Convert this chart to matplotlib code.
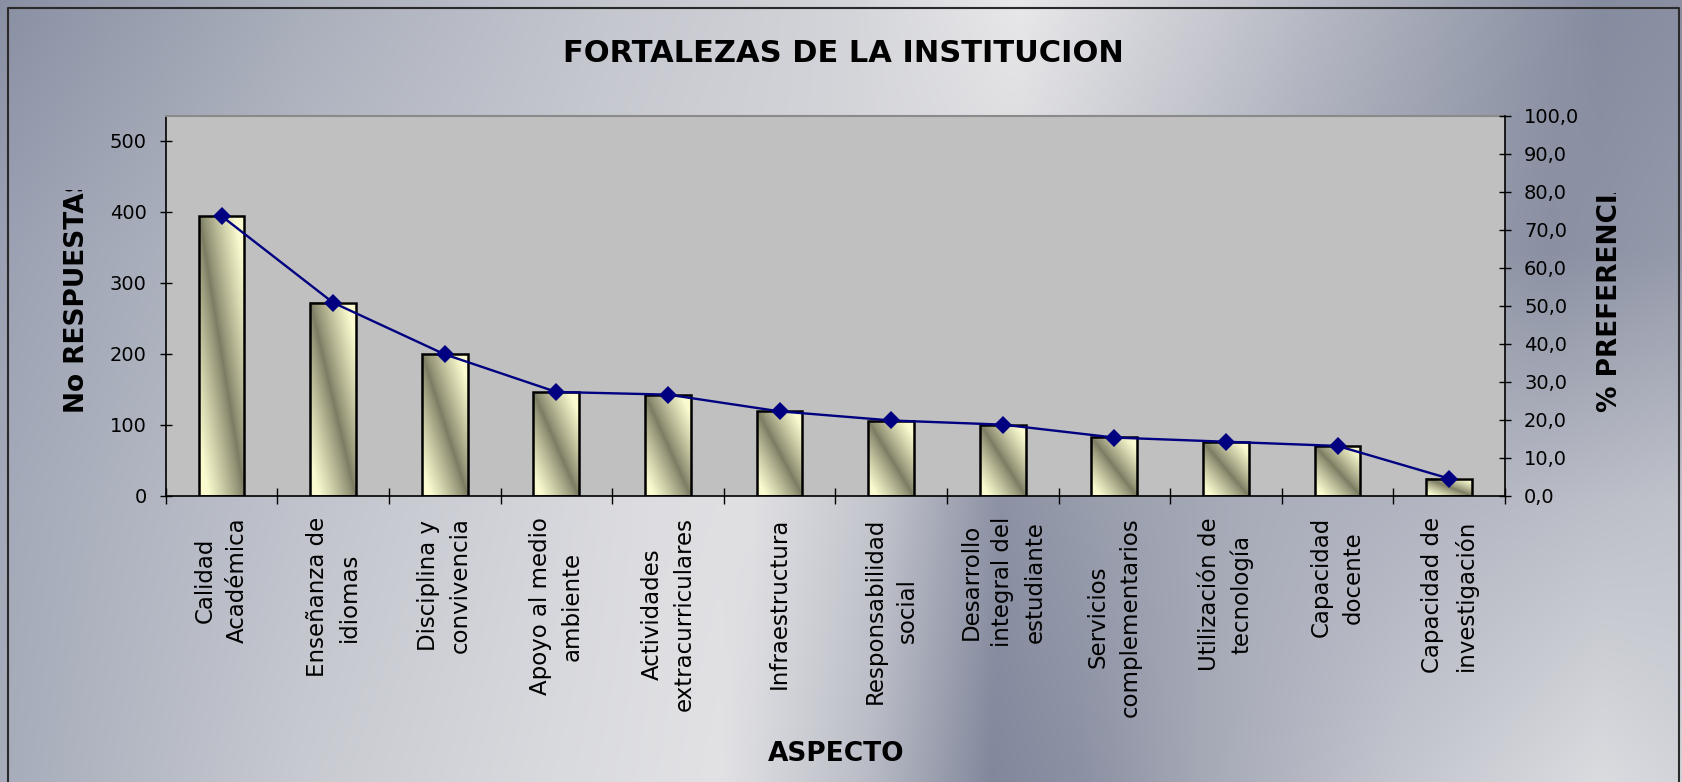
import numpy as np
import matplotlib
matplotlib.use("Agg")
import matplotlib.pyplot as plt
from matplotlib.colors import to_rgb
from matplotlib.transforms import Bbox, TransformedBbox
from matplotlib.ticker import FuncFormatter, FixedLocator

# datos
categorias = ["Calidad\nAcadémica", "Enseñanza de\nidiomas", "Disciplina y\nconvivencia",
              "Apoyo al medio\nambiente", "Actividades\nextracurriculares", "Infraestructura",
              "Responsabilidad\nsocial", "Desarrollo\nintegral del\nestudiante",
              "Servicios\ncomplementarios", "Utilización de\ntecnología", "Capacidad\ndocente",
              "Capacidad de\ninvestigación"]
respuestas = [394, 272, 199, 146, 142, 119, 105, 100, 82, 76, 70, 24]
preferencia = [73.6, 50.8, 37.2, 27.3, 26.6, 22.2, 19.8, 18.7, 15.3, 14.2, 13.1, 4.5]

W, H = 1683, 782
plt.rcParams['font.family'] = ['DejaVu Sans']

fig = plt.figure(figsize=(W / 100, H / 100), dpi=100)

# fondo "cromado" del area del grafico
filas = {
    0: [(0, '#8a90a3'), (300, '#a9aebb'), (600, '#c4c6ce'), (850, '#d4d5da'), (1020, '#e8e8ea'),
        (1200, '#cacbd2'), (1450, '#9fa4b3'), (1600, '#868c9f'), (1683, '#8a90a2')],
    250: [(0, '#9ba1b2'), (300, '#b8bcc6'), (700, '#d0d1d6'), (1000, '#d8d8dc'), (1300, '#a8acb9'),
          (1550, '#8a90a2'), (1683, '#959aab')],
    500: [(0, '#a3a9b8'), (300, '#c0c3cc'), (650, '#dddde1'), (750, '#e0e0e3'), (880, '#c2c4cc'),
          (1000, '#8c91a4'), (1100, '#9a9fae'), (1250, '#a9adba'), (1450, '#b4b7c2'), (1683, '#c0c3cb')],
    782: [(0, '#a6acba'), (300, '#c8cad1'), (550, '#d9dade'), (720, '#e2e2e5'), (870, '#b8bbc5'),
          (990, '#82889c'), (1080, '#8b90a3'), (1200, '#a5a9b6'), (1400, '#c4c6cf'), (1600, '#dbdce0'),
          (1683, '#d2d4da')],
}
xs = np.arange(W)
ys_rows = sorted(filas)
row_imgs = []
for yr in ys_rows:
    px = [p[0] for p in filas[yr]]
    cols = np.array([to_rgb(p[1]) for p in filas[yr]])
    row_imgs.append(np.stack([np.interp(xs, px, cols[:, c]) for c in range(3)], axis=-1))
row_imgs = np.array(row_imgs)
img = np.zeros((H, W, 3))
for c in range(3):
    for j in range(W):
        img[:, j, c] = np.interp(np.arange(H), ys_rows, row_imgs[:, j, c])

bg = fig.add_axes([0, 0, 1, 1])
bg.imshow(img, aspect='auto', extent=[0, W, H, 0], interpolation='bilinear')
bg.set_xlim(0, W)
bg.set_ylim(H, 0)
bg.axis('off')
bg.plot([8.5, 8.5, 1679, 1679], [H + 5, 7.5, 7.5, H + 5], color='#2a2a2a', lw=1.5, clip_on=False)

# area de trazado
x0, x1, y0, y1 = 165.7, 1505, 115.7, 495.7
ax = fig.add_axes([x0 / W, 1 - y1 / H, (x1 - x0) / W, (y1 - y0) / H])
ax.set_facecolor('#c0c0c0')

x = np.arange(len(categorias))
bars = ax.bar(x, respuestas, width=0.41, facecolor='none', edgecolor='black', linewidth=1.8, zorder=3)

light = np.array(to_rgb('#fbfbcf'))
dark = np.array(to_rgb('#7b7b62'))
u = np.linspace(0, 1, 80)[None, :]
v = np.linspace(0, 1, 300)[:, None]
t = np.clip(np.abs(u - v) * 1.25, 0, 1) ** 0.85
grad = dark + (light - dark) * t[..., None]
for b in bars:
    bx, bw, bh = b.get_x(), b.get_width(), b.get_height()
    ax.imshow(grad, extent=(bx, bx + bw, 0, bh), aspect='auto', zorder=2.5, interpolation='bilinear')

ax.set_xlim(-0.5, len(categorias) - 0.5)
ax.set_ylim(0, 535)
ax.set_yticks(range(0, 501, 100))
ax.set_xticks(x)
ax.set_xticklabels(categorias, rotation=90, fontsize=16.5, ha='center', va='top',
                   multialignment='center', linespacing=1.5)
ax.xaxis.set_minor_locator(FixedLocator(np.arange(-0.5, len(categorias), 1)))
ax.tick_params(axis='x', which='major', length=0, pad=15.5)
ax.tick_params(axis='x', which='minor', direction='inout', length=12, width=1)
ax.tick_params(axis='y', direction='inout', length=8.6, width=1, labelsize=14, pad=9.4)
ax.spines['top'].set_color('#8a8a8a')
ax.spines['top'].set_linewidth(1.5)
ax.spines['right'].set_visible(False)
for s in ('left', 'bottom'):
    ax.spines[s].set_linewidth(1.2)

ax2 = ax.twinx()
ax2.plot(x, preferencia, color='#000080', lw=1.7, marker='D', ms=9, mew=0, zorder=5)
ax2.set_ylim(0, 100)
ax2.set_yticks(range(0, 101, 10))
ax2.yaxis.set_major_formatter(FuncFormatter(lambda val, _: f"{val:.1f}".replace('.', ',')))
ax2.tick_params(axis='y', direction='inout', length=8.6, width=1, labelsize=14, pad=9.4)
for s in ('left', 'top', 'bottom'):
    ax2.spines[s].set_visible(False)
ax2.spines['right'].set_linewidth(1.2)

# titulos
fig.text(843 / W, 1 - 53 / H, "FORTALEZAS DE LA INSTITUCION", fontsize=22, fontweight='bold',
         ha='center', va='center')
fig.text(836 / W, 1 - 754 / H, "ASPECTO", fontsize=19, fontweight='bold', ha='center', va='center')

clip = TransformedBbox(Bbox([[0, 0], [1, 1 - 190 / H]]), fig.transFigure)
yl = fig.text(77 / W, 1 - 413 / H, "No RESPUESTAS", fontsize=19, fontweight='bold',
              rotation=90, ha='center', va='bottom')
yl.set_clip_on(True)
yl.set_clip_box(clip)
clip2 = TransformedBbox(Bbox([[0, 0], [1, 1 - 193 / H]]), fig.transFigure)
yr = fig.text(1610 / W, 1 - 412 / H, "% PREFERENCIA", fontsize=19, fontweight='bold',
              rotation=90, ha='center', va='bottom')
yr.set_clip_on(True)
yr.set_clip_box(clip2)

fig.savefig("out.png", dpi=100)
